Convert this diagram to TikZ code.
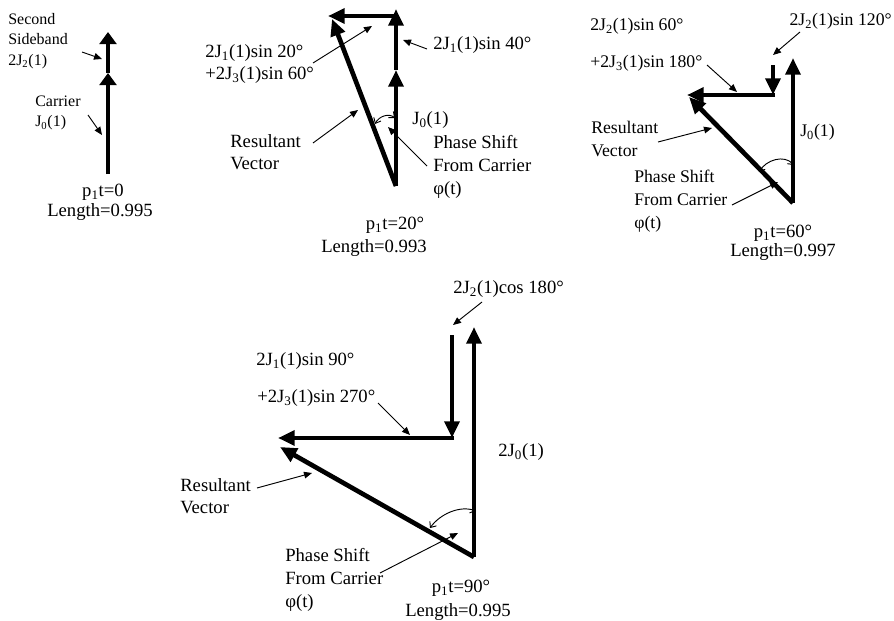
\documentclass[tikz,border=0pt]{standalone}
\usepackage{fontspec}
\setmainfont{Liberation Serif}
\usetikzlibrary{arrows.meta}
\newcommand{\sbx}[1]{\textsubscript{#1}}
\begin{document}
\begin{tikzpicture}[x=0.75pt,y=-0.75pt,
  vec/.style={line width=3.5pt,-{Triangle[length=12.5pt,width=11pt]}},
  vecA/.style={line width=3.2pt,-{Triangle[length=9pt,width=12.5pt]}},
  pointer/.style={line width=0.7pt,-{Triangle[length=6pt,width=5pt]}},
  anglearc/.style={line width=0.7pt,{Straight Barb[length=3.5pt,width=6pt]}-{Straight Barb[length=3.5pt,width=6pt]}},
  lbl/.style={inner sep=0pt,font=\fontsize{14}{17}\selectfont,align=left},
  lblm/.style={inner sep=0pt,font=\fontsize{13.3}{17}\selectfont,align=left},
  lbls/.style={inner sep=0pt,font=\fontsize{12}{15.5}\selectfont,align=left},
]
\useasboundingbox (0,0) rectangle (894,621);

% ---------------- Diagram 1 ----------------
\coordinate (a0) at (108,174);
\coordinate (a1) at (108,73);
\coordinate (a2) at (108,32);
\draw[vecA] (a0) -- (a1);
\draw[vecA] (a1) -- (a2);
\node[lbls,anchor=west] (d1sb) at (8,41) {Second\\Sideband\\2J\sbx{2}(1)};
\coordinate (p1s) at (82,52); \coordinate (p1e) at (102,59);
\draw[pointer] (p1s) -- (p1e);
\node[lbls,anchor=west] (d1c) at (35,113) {Carrier\\J\sbx{0}(1)};
\coordinate (p2s) at (88,115); \coordinate (p2e) at (102,135);
\draw[pointer] (p2s) -- (p2e);
\node[lbl] (d1p) at (103,192) {p\sbx{1}t=0};
\node[lbl] (d1l) at (100,212) {Length=0.995};

% ---------------- Diagram 2 ----------------
\coordinate (b0) at (396,186);
\coordinate (b1) at (396,70);
\coordinate (b2) at (396,9);
\coordinate (b3) at (396,16);
\coordinate (b4) at (328,16);
\coordinate (b5) at (332,19);
\draw[vec] (b0) -- (b1);
\draw[vec] (b1) -- (b2);
\draw[vec] (b3) -- (b4);
\draw[vec] (b0) -- (b5);
\coordinate (ba1) at (375,124); \coordinate (ba2) at (395,118);
\draw[anglearc] (ba1) .. controls (379,116) and (389,113) .. (ba2);
\node[lbl,anchor=west] (d2s) at (205,64) {2J\sbx{1}(1)sin 20°\\+2J\sbx{3}(1)sin 60°};
\coordinate (q1s) at (313,63); \coordinate (q1e) at (372,26);
\draw[pointer] (q1s) -- (q1e);
\node[lbl,anchor=west] (d2f) at (433,45) {2J\sbx{1}(1)sin 40°};
\coordinate (q2s) at (427,49); \coordinate (q2e) at (403,40);
\draw[pointer] (q2s) -- (q2e);
\node[lbl,anchor=west] (d2j) at (412,120) {J\sbx{0}(1)};
\node[lbl,anchor=west] (d2ph) at (433,167) {Phase Shift\\From Carrier\\φ(t)};
\coordinate (q3s) at (427,166); \coordinate (q3e) at (388,127);
\draw[pointer] (q3s) -- (q3e);
\node[lbl,anchor=west] (d2r) at (230,152) {Resultant\\Vector};
\coordinate (q4s) at (313,143); \coordinate (q4e) at (358,110);
\draw[pointer] (q4s) -- (q4e);
\node[lbl] (d2p) at (395,225) {p\sbx{1}t=20°};
\node[lbl] (d2l) at (374,248) {Length=0.993};

% ---------------- Diagram 3 ----------------
\coordinate (c0) at (793,203);
\coordinate (c1) at (793,58);
\coordinate (c2) at (773,65);
\coordinate (c3) at (773,95);
\coordinate (c4) at (775,95);
\coordinate (c5) at (687,95);
\coordinate (c6) at (689,97);
\draw[vec] (c0) -- (c1);
\draw[vec] (c2) -- (c3);
\draw[vec] (c4) -- (c5);
\draw[vec] (c0) -- (c6);
\coordinate (ca1) at (759,172); \coordinate (ca2) at (794,165);
\draw[anglearc] (ca1) .. controls (766,160) and (784,154) .. (ca2);
\node[lblm,anchor=west] (d3a) at (590,26) {2J\sbx{2}(1)sin 60°};
\node[lblm,anchor=west] (d3b) at (590,63) {+2J\sbx{3}(1)sin 180°};
\coordinate (r1s) at (707,65); \coordinate (r1e) at (737,92);
\draw[pointer] (r1s) -- (r1e);
\node[lblm,anchor=east] (d3c) at (892,21) {2J\sbx{2}(1)sin 120°};
\coordinate (r2s) at (800,32); \coordinate (r2e) at (773,55);
\draw[pointer] (r2s) -- (r2e);
\node[lblm,anchor=west] (d3r) at (591,139) {Resultant\\Vector};
\coordinate (r3s) at (658,142); \coordinate (r3e) at (712,128);
\draw[pointer] (r3s) -- (r3e);
\node[lblm,anchor=west] (d3j) at (800,132) {J\sbx{0}(1)};
\node[lblm,anchor=west] (d3ph) at (634,201) {Phase Shift\\From Carrier\\φ(t)};
\coordinate (r4s) at (732,205); \coordinate (r4e) at (778,182);
\draw[pointer] (r4s) -- (r4e);
\node[lbl] (d3p) at (783,233) {p\sbx{1}t=60°};
\node[lbl] (d3l) at (783,252) {Length=0.997};

% ---------------- Diagram 4 ----------------
\coordinate (e0) at (474,557);
\coordinate (e1) at (474,327);
\coordinate (e2) at (452,335);
\coordinate (e3) at (452,438);
\coordinate (e4) at (454,438);
\coordinate (e5) at (278,438);
\coordinate (e6) at (280,447);
\draw[vec] (e0) -- (e1);
\draw[vec] (e2) -- (e3);
\draw[vec] (e4) -- (e5);
\draw[vec] (e0) -- (e6);
\coordinate (ea1) at (430,528); \coordinate (ea2) at (476,511);
\draw[anglearc] (ea1) .. controls (440,514) and (460,505) .. (ea2);
\node[lbl,anchor=west] (d4c) at (453,289) {2J\sbx{2}(1)cos 180°};
\coordinate (s1s) at (482,302); \coordinate (s1e) at (453,325);
\draw[pointer] (s1s) -- (s1e);
\node[lbl,anchor=west] (d4a) at (256,361) {2J\sbx{1}(1)sin 90°};
\node[lbl,anchor=west] (d4b) at (257,398) {+2J\sbx{3}(1)sin 270°};
\coordinate (s2s) at (378,403); \coordinate (s2e) at (410,435);
\draw[pointer] (s2s) -- (s2e);
\node[lbl,anchor=west] (d4j) at (498,452) {2J\sbx{0}(1)};
\node[lbl,anchor=west] (d4r) at (180,496) {Resultant\\Vector};
\coordinate (s3s) at (257,488); \coordinate (s3e) at (312,473);
\draw[pointer] (s3s) -- (s3e);
\node[lbl,anchor=west] (d4ph) at (285,580) {Phase Shift\\From Carrier\\φ(t)};
\coordinate (s4s) at (380,573); \coordinate (s4e) at (458,533);
\draw[pointer] (s4s) -- (s4e);
\node[lbl] (d4p) at (461,588) {p\sbx{1}t=90°};
\node[lbl] (d4l) at (458,612) {Length=0.995};
\end{tikzpicture}
\end{document}
